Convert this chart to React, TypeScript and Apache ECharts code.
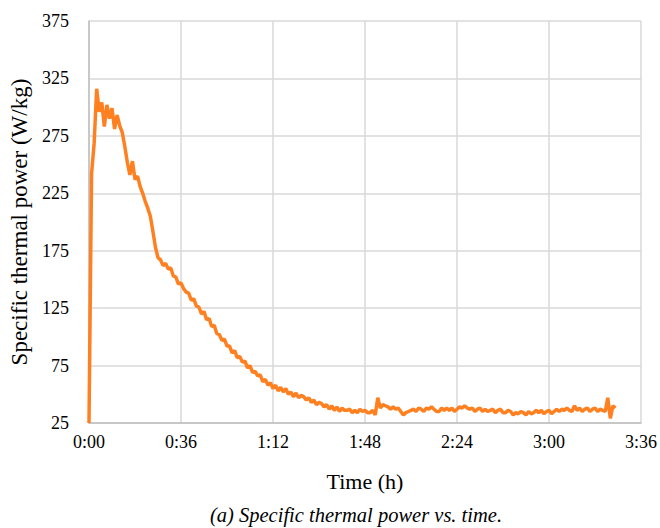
import React, { useEffect, useRef } from "react";
import * as echarts from "echarts";

// Time step between samples, minutes
const stepMinutes = 1;

// Specific thermal power (W/kg), one value per minute from 0:00
const powerValues: number[] = [
  25, 242, 268, 316, 296, 304, 283, 302, 290, 299,
  281, 293, 284, 278, 266, 252, 241, 253, 237, 240,
  231, 225, 218, 212, 205, 192, 178, 169, 167, 162,
  164, 159, 160, 153, 152, 146, 147, 142, 139, 138,
  132, 133, 127, 126, 120, 122, 115, 116, 109, 110,
  103, 102, 97, 98, 92, 92, 86, 88, 82, 83,
  78, 79, 73, 75, 69, 70, 66, 67, 61, 63,
  58, 60, 55, 58, 53, 56, 52, 55, 50, 52,
  48, 51, 47, 49, 48, 45, 47, 43, 45, 41,
  43, 42, 39, 41, 37, 40, 36, 39, 35, 38,
  36, 36, 37, 34, 36, 34, 37, 35, 36, 34,
  34, 36, 32, 47, 38, 41, 40, 39, 37, 39,
  37, 38, 35, 32, 34, 35, 36, 37, 35, 38,
  37, 35, 38, 37, 39, 37, 35, 35, 38, 36,
  38, 36, 38, 35, 37, 39, 38, 40, 38, 37,
  38, 35, 37, 38, 35, 37, 35, 36, 37, 34,
  36, 37, 34, 34, 36, 35, 32, 34, 33, 35,
  34, 32, 35, 33, 34, 36, 34, 36, 33, 35,
  36, 33, 35, 37, 35, 37, 36, 38, 36, 35,
  40, 36, 38, 35, 37, 38, 35, 37, 38, 35,
  37, 36, 35, 47, 29, 40, 38,
];

const xTickMinutes = { min: 0, max: 216, interval: 36 };
const yTicks = { min: 25, max: 375, interval: 50 };

const xAxisTitle = "Time (h)";
const yAxisTitle = "Specific thermal power (W/kg)";
const caption = "(a) Specific thermal power vs. time.";

const FONT = '"Liberation Serif", "Times New Roman", serif';

function fmtTime(v: number): string {
  const h = Math.floor(v / 60);
  const m = Math.round(v - h * 60);
  return `${h}:${String(m).padStart(2, "0")}`;
}

export default function App() {
  const ref = useRef<HTMLDivElement>(null);
  useEffect(() => {
    if (!ref.current) return;
    const chart = echarts.init(ref.current, undefined, { renderer: "svg" });
    const data = powerValues.map((v, i) => [i * stepMinutes, v]);
    chart.setOption({
      animation: false,
      backgroundColor: "#ffffff",
      grid: { left: 89, right: 17, top: 21, bottom: 105, containLabel: false },
      xAxis: {
        type: "value",
        min: xTickMinutes.min,
        max: xTickMinutes.max,
        interval: xTickMinutes.interval,
        name: xAxisTitle,
        nameLocation: "middle",
        nameGap: 47,
        nameTextStyle: { fontFamily: FONT, fontSize: 22, color: "#000" },
        axisLine: { show: true, lineStyle: { color: "#bfbfbf", width: 1.5 } },
        axisTick: { show: false },
        axisLabel: {
          formatter: (v: number) => fmtTime(v),
          fontFamily: FONT,
          fontSize: 18,
          color: "#000",
          margin: 10,
        },
        splitLine: { show: true, lineStyle: { color: "#d9d9d9", width: 1.5 } },
      },
      yAxis: {
        type: "value",
        min: yTicks.min,
        max: yTicks.max,
        interval: yTicks.interval,
        name: yAxisTitle,
        nameLocation: "middle",
        nameGap: 56,
        nameRotate: 90,
        nameTextStyle: { fontFamily: FONT, fontSize: 23, color: "#000" },
        axisLine: { show: true, lineStyle: { color: "#bfbfbf", width: 1.5 } },
        axisTick: { show: false },
        axisLabel: {
          fontFamily: FONT,
          fontSize: 18,
          color: "#000",
          margin: 20,
        },
        splitLine: { show: true, lineStyle: { color: "#d9d9d9", width: 1.5 } },
      },
      graphic: [
        {
          type: "text",
          x: 356,
          y: 505,
          style: {
            text: caption,
            font: `italic 20.5px ${FONT}`,
            fill: "#000",
            textAlign: "center",
            textVerticalAlign: "top",
          },
        },
      ],
      series: [
        {
          type: "line",
          data,
          showSymbol: false,
          symbol: "none",
          lineStyle: { color: "#ff8020", width: 3.5 },
          itemStyle: { color: "#ff8020" },
        },
      ],
    });
    return () => chart.dispose();
  }, []);
  return <div ref={ref} style={{ width: 660, height: 528, position: "absolute", left: 0, top: 0 }} />;
}
